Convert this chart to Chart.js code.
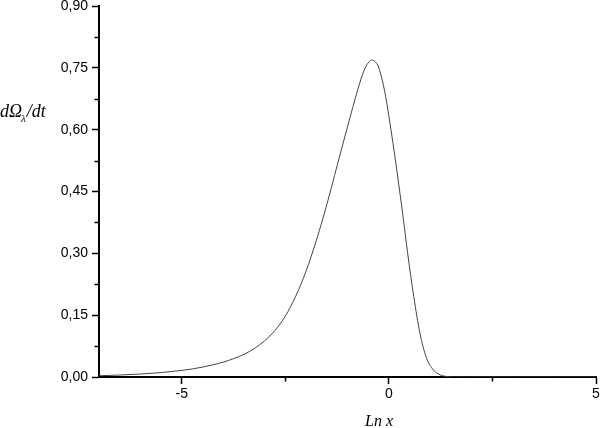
<!DOCTYPE html>
<html>
<head>
<meta charset="utf-8">
<script src="https://cdn.jsdelivr.net/npm/chart.js@4/dist/chart.umd.min.js"></script>
<style>
html,body{margin:0;padding:0;background:#fff;}
#wrap{width:600px;height:428px;position:relative;}
</style>
</head>
<body>
<div id="wrap"><canvas id="c" width="600" height="428"></canvas></div>
<script>
// Data
const lnX = [-7, -6.5, -6, -5.5, -5, -4.75, -4.5, -4.25, -4, -3.75, -3.5, -3.25, -3, -2.75, -2.5, -2.25, -2, -1.75, -1.5, -1.25, -1, -0.75, -0.6, -0.5, -0.42, -0.33, -0.25, -0.1, 0, 0.1, 0.2, 0.35, 0.45, 0.6, 0.75, 0.9, 1.05, 1.2, 1.4, 1.6, 2, 3, 4, 5];
const dOmega = [0.003, 0.0048, 0.0072, 0.0107, 0.016, 0.0195, 0.024, 0.0295, 0.036, 0.0445, 0.055, 0.069, 0.088, 0.113, 0.148, 0.196, 0.257, 0.332, 0.418, 0.513, 0.607, 0.698, 0.744, 0.762, 0.769, 0.765, 0.752, 0.692, 0.632, 0.566, 0.495, 0.382, 0.302, 0.195, 0.106, 0.048, 0.020, 0.007, 0.001, 0, 0, 0, 0, 0];
const xMajorTicks = [-5, 0, 5];
const xMinorTicks = [-2.5, 2.5];
const yMajorTicks = [0, 0.15, 0.30, 0.45, 0.60, 0.75, 0.90];
const yMinorTicks = [0.075, 0.225, 0.375, 0.525, 0.675, 0.825];
const xTitle = "Ln x";

const fmtY = v => v.toFixed(2).replace('.', ',');

const decor = {
  id: 'decor',
  afterDraw(chart) {
    const ctx = chart.ctx;
    const xs = chart.scales.x, ys = chart.scales.y;
    const area = chart.chartArea;
    ctx.save();
    ctx.strokeStyle = '#000';
    ctx.lineWidth = 1.5;
    // minor ticks
    xMinorTicks.forEach(v => {
      const px = Math.round(xs.getPixelForValue(v)) + 0.5;
      ctx.beginPath(); ctx.moveTo(px, area.bottom); ctx.lineTo(px, area.bottom + 4.5); ctx.stroke();
    });
    yMinorTicks.forEach(v => {
      const py = Math.round(ys.getPixelForValue(v)) + 0.5;
      ctx.beginPath(); ctx.moveTo(area.left, py); ctx.lineTo(area.left - 4.5, py); ctx.stroke();
    });
    // x title
    ctx.fillStyle = '#000';
    ctx.font = 'italic 16px "Liberation Serif", "DejaVu Serif", serif';
    ctx.textAlign = 'center';
    ctx.textBaseline = 'alphabetic';
    ctx.fillText(xTitle, 379, 426);
    // y title: dΩλ/dt with subscript λ
    ctx.textAlign = 'left';
    let x = 0;
    const base = 117;
    ctx.font = 'italic 18px "Liberation Serif", "DejaVu Serif", serif';
    ctx.fillText('dΩ', x, base);
    x += ctx.measureText('dΩ').width;
    ctx.font = 'italic 11px "Liberation Serif", "DejaVu Serif", serif';
    ctx.fillText('λ', x - 1, base + 5);
    x += ctx.measureText('λ').width;
    ctx.font = 'italic 18px "Liberation Serif", "DejaVu Serif", serif';
    ctx.fillText('/dt', x, base);
    ctx.restore();
  }
};

new Chart(document.getElementById('c'), {
  type: 'line',
  data: {
    datasets: [{
      data: lnX.map((v, i) => ({x: v, y: dOmega[i]})),
      borderColor: '#444',
      borderWidth: 1,
      pointRadius: 0,
      fill: false,
      cubicInterpolationMode: 'monotone'
    }]
  },
  options: {
    responsive: false,
    animation: false,
    events: [],
    layout: {padding: {left: 0, right: 4, top: 6, bottom: 0}},
    plugins: {legend: {display: false}, tooltip: {enabled: false}},
    scales: {
      x: {
        type: 'linear', min: -7, max: 5,
        afterBuildTicks(s) { s.ticks = xMajorTicks.map(v => ({value: v})); },
        afterFit(s) { s.height = 51; s.paddingLeft = 0; s.paddingRight = 0; },
        border: {display: true, color: '#000', width: 2},
        grid: {drawOnChartArea: false, drawTicks: true, tickLength: 7, tickColor: '#000', tickWidth: 1.5},
        ticks: {color: '#000', font: {family: 'Liberation Sans, Arial, sans-serif', size: 14}, padding: 2, maxRotation: 0,
          callback: v => String(v)}
      },
      y: {
        type: 'linear', min: 0, max: 0.9,
        afterBuildTicks(s) { s.ticks = yMajorTicks.map(v => ({value: v})); },
        afterFit(s) { s.width = 99; s.paddingTop = 0; s.paddingBottom = 0; },
        border: {display: true, color: '#000', width: 2},
        grid: {drawOnChartArea: false, drawTicks: true, tickLength: 7, tickColor: '#000', tickWidth: 1.5},
        ticks: {color: '#000', font: {family: 'Liberation Sans, Arial, sans-serif', size: 14}, padding: 4,
          callback: v => fmtY(v)}
      }
    }
  },
  plugins: [decor]
});
</script>
</body>
</html>
